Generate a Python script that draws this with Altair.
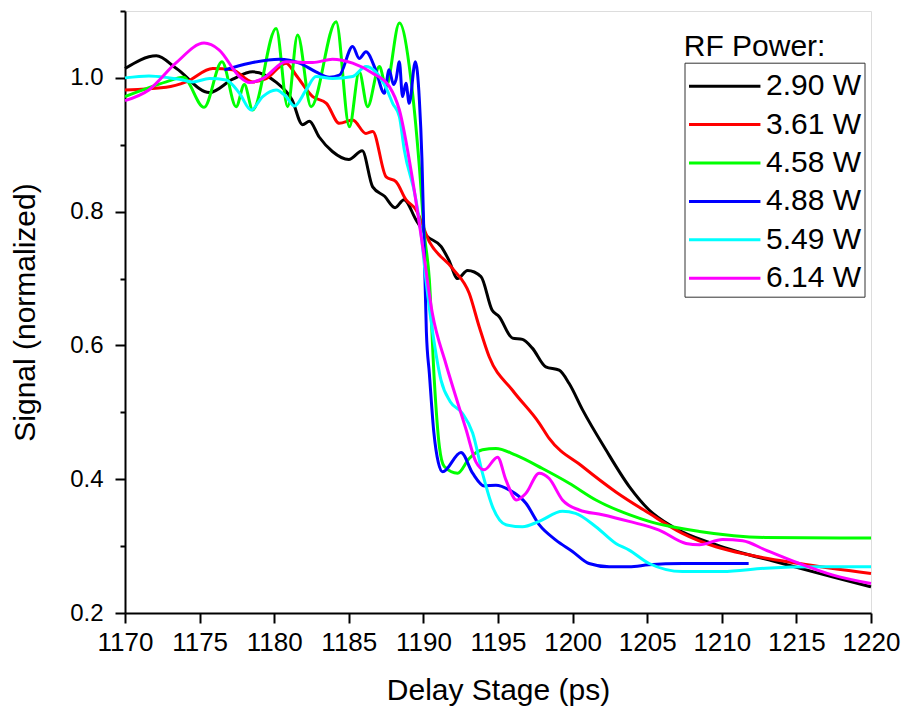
import altair as alt
import pandas as pd

FONT = "Liberation Sans"

series_names = ["2.90 W", "3.61 W", "4.58 W", "4.88 W", "5.49 W", "6.14 W"]
series_colors = ["#000000", "#ff0000", "#00ff00", "#0000ff", "#00ffff", "#ff00ff"]

x_tick_values = [1170 + 2.5 * i for i in range(21)]
y_tick_values = [0.2, 0.3, 0.4, 0.5, 0.6, 0.7, 0.8, 0.9, 1.0, 1.1]

legend_title = "RF Power:"
legend_title_delay = 1207.45
legend_title_signal = 1.033

# 2.90 W (black)
x_290 = [1170, 1172.1, 1173.45, 1175.66, 1177.22, 1178.56, 1180.1, 1181.2, 1181.9, 1182.36,
         1183.0, 1183.9, 1185.0, 1185.9, 1186.6, 1187.4, 1188.1, 1188.7, 1189.5, 1190.17,
         1191.18, 1191.7, 1192.3, 1192.96, 1193.86, 1194.6, 1195.08, 1195.97, 1196.64, 1197.3,
         1198.2, 1199.1, 1199.77, 1200.66, 1202.23, 1203.8, 1205.13, 1206.7, 1209.6, 1214.06,
         1217.4, 1220]
y_290 = [1.014, 1.033, 1.014, 0.978, 0.998, 1.009, 0.994, 0.967, 0.930, 0.935,
         0.912, 0.890, 0.878, 0.891, 0.837, 0.823, 0.806, 0.818, 0.788, 0.765,
         0.748, 0.728, 0.700, 0.712, 0.703, 0.653, 0.643, 0.611, 0.609, 0.596,
         0.568, 0.563, 0.543, 0.504, 0.444, 0.389, 0.354, 0.329, 0.302, 0.274,
         0.254, 0.239]

# 3.61 W (red)
x_361 = [1170, 1172.76, 1174.1, 1175.88, 1177.2, 1178.56, 1179.46, 1180.8, 1181.47, 1182.58,
         1183.5, 1184.37, 1185.26, 1186.15, 1186.6, 1187.5, 1188.16, 1188.83, 1189.5, 1190.4,
         1191.96, 1193.07, 1193.74, 1194.41, 1195.97, 1197.76, 1198.43, 1200.66, 1202.9, 1205.13,
         1207.36, 1209.6, 1211.8, 1215.2, 1220]
y_361 = [0.982, 0.986, 0.994, 1.014, 1.012, 0.994, 0.999, 1.022, 1.004, 0.972,
         0.962, 0.932, 0.937, 0.917, 0.920, 0.852, 0.845, 0.818, 0.803, 0.755,
         0.715, 0.678, 0.628, 0.583, 0.533, 0.484, 0.461, 0.419, 0.381, 0.349,
         0.319, 0.299, 0.287, 0.274, 0.259]

# 4.58 W (green)
x_458 = [1170, 1172.76, 1173.9, 1175.3, 1176.5, 1177.45, 1178.0, 1178.56, 1180.13, 1180.9,
         1181.57, 1182.47, 1184.15, 1185.04, 1185.7, 1186.26, 1187.05, 1187.5, 1188.39, 1189.17,
         1189.73, 1190.06, 1190.4, 1190.73, 1191.07, 1191.4, 1192.29, 1193.07, 1193.96, 1194.86,
         1196.2, 1197.98, 1199.77, 1201.56, 1203.79, 1205.13, 1208.5, 1212.9, 1220]
y_458 = [0.972, 0.994, 1.001, 0.956, 1.024, 0.957, 0.990, 0.952, 1.074, 0.957,
         1.064, 0.957, 1.084, 0.927, 1.009, 0.957, 1.017, 0.987, 1.082, 0.997,
         0.867, 0.768, 0.698, 0.548, 0.449, 0.419, 0.409, 0.431, 0.444, 0.446,
         0.436, 0.416, 0.394, 0.369, 0.347, 0.337, 0.322, 0.313, 0.312]

# 4.88 W (blue)
x_488 = [1176.66, 1178.34, 1180.35, 1181.7, 1182.8, 1183.7, 1184.37, 1185.26, 1185.7, 1186.15,
         1186.8, 1187.38, 1187.7, 1188.0, 1188.16, 1188.39, 1188.6, 1188.83, 1189.05, 1189.46,
         1189.73, 1189.9, 1190.05, 1190.2, 1190.4, 1190.7, 1191.0, 1191.29, 1192.52, 1193.3,
         1194.08, 1194.86, 1195.75, 1196.87, 1197.76, 1198.88, 1199.99, 1201.1, 1202.45, 1203.79,
         1205.1, 1207.36, 1211.8]
y_488 = [1.012, 1.022, 1.028, 1.022, 1.009, 1.001, 1.004, 1.047, 1.029, 1.039,
         1.012, 0.977, 1.012, 0.990, 0.997, 1.024, 0.972, 0.992, 0.962, 1.024,
         0.967, 0.880, 0.750, 0.620, 0.558, 0.470, 0.425, 0.411, 0.440, 0.409,
         0.390, 0.391, 0.384, 0.364, 0.332, 0.309, 0.292, 0.274, 0.269, 0.269,
         0.272, 0.274, 0.274]

# 5.49 W (cyan)
x_549 = [1170, 1171.6, 1173.0, 1173.65, 1174.54, 1175.66, 1176.78, 1177.67, 1178.45, 1179.23,
         1180.13, 1180.8, 1181.35, 1182.14, 1182.8, 1183.9, 1185.26, 1186.15, 1186.8, 1187.5,
         1187.94, 1188.39, 1188.72, 1189.5, 1189.84, 1190.17, 1190.6, 1191.18, 1191.8, 1192.6,
         1193.3, 1193.96, 1194.63, 1195.53, 1196.64, 1197.76, 1199.32, 1200.2, 1201.56, 1202.9,
         1203.79, 1205.13, 1207.36, 1210.04, 1212.95, 1216.3, 1220]
y_549 = [1.000, 1.003, 1.000, 0.998, 0.994, 0.999, 0.997, 0.977, 0.952, 0.972,
         0.982, 0.972, 0.958, 0.982, 1.002, 0.999, 1.002, 1.017, 1.009, 0.985,
         0.962, 0.942, 0.892, 0.818, 0.768, 0.698, 0.623, 0.548, 0.516, 0.499,
         0.469, 0.409, 0.359, 0.332, 0.329, 0.337, 0.352, 0.349, 0.329, 0.304,
         0.294, 0.274, 0.262, 0.262, 0.267, 0.269, 0.269]

# 6.14 W (magenta)
x_614 = [1170, 1171.6, 1173.4, 1175.3, 1176.3, 1177.67, 1178.34, 1179.23, 1180.8, 1182.58,
         1183.9, 1185.26, 1186.6, 1187.72, 1188.39, 1189.28, 1189.95, 1190.6, 1191.5, 1192.18,
         1192.85, 1193.52, 1194.08, 1194.97, 1195.53, 1196.24, 1196.87, 1197.76, 1198.43, 1199.32,
         1200.44, 1202.0, 1203.79, 1205.8, 1207.6, 1208.5, 1210.04, 1211.4, 1212.95, 1215.2,
         1217.4, 1220]
y_614 = [0.966, 0.982, 1.022, 1.052, 1.042, 1.002, 0.993, 0.999, 1.024, 1.023,
         1.028, 1.022, 1.007, 0.987, 0.952, 0.847, 0.748, 0.648, 0.573, 0.523,
         0.475, 0.426, 0.414, 0.433, 0.399, 0.369, 0.379, 0.409, 0.401, 0.369,
         0.354, 0.347, 0.337, 0.324, 0.304, 0.302, 0.310, 0.308, 0.294, 0.274,
         0.257, 0.244]

all_x = [x_290, x_361, x_458, x_488, x_549, x_614]
all_y = [y_290, y_361, y_458, y_488, y_549, y_614]

rows = []
for k, (name, xs, ys) in enumerate(zip(series_names, all_x, all_y)):
    for xv, yv in zip(xs, ys):
        rows.append({"delay": xv, "signal": yv, "power": name, "k": k})
df = pd.DataFrame(rows)

title_df = pd.DataFrame([{"delay": legend_title_delay, "signal": legend_title_signal,
                          "label": legend_title}])

x_scale = alt.Scale(domain=[1170, 1220], nice=False, zero=False)
y_scale = alt.Scale(domain=[0.2, 1.1], nice=False, zero=False)

x_axis = alt.Axis(
    values=x_tick_values,
    labelExpr="datum.value % 5 === 0 ? format(datum.value, 'd') : ''",
    tickSize={"condition": {"test": "datum.value % 5 === 0", "value": 10}, "value": 5},
    tickWidth=2, tickColor="black", domainColor="black", domainWidth=2,
    grid=False, labelFont=FONT, labelFontSize=26, labelColor="black", labelPadding=6,
    labelFlush=False, labelOverlap=False,
    title="Delay Stage (ps)", titleFont=FONT, titleFontSize=30, titleFontWeight="normal",
    titleColor="black", titleY=77, titleBaseline="middle",
)
y_axis = alt.Axis(
    values=y_tick_values,
    labelExpr="round(datum.value * 10) % 2 === 0 ? format(datum.value, '.1f') : ''",
    tickSize={"condition": {"test": "round(datum.value * 10) % 2 === 0", "value": 10}, "value": 5},
    tickWidth=2, tickColor="black", domainColor="black", domainWidth=2,
    grid=False, labelFont=FONT, labelFontSize=24, labelColor="black", labelPadding=12,
    labelFlush=False, labelOverlap=False,
    title="Signal (normalized)", titleFont=FONT, titleFontSize=30, titleFontWeight="normal",
    titleColor="black", titleX=-100, titleY=301, titleBaseline="middle", titleAngle=-90,
    titleAlign="center",
)

legend = alt.Legend(
    title=None, orient="none", legendX=559.5, legendY=51.7,
    strokeColor="#333333", fillColor="white", padding=3,
    symbolType="M-1,0H2.76", symbolSize=38 * 38, symbolStrokeWidth=3,
    symbolFillColor="transparent",
    labelFont=FONT, labelFontSize=30, labelColor="black", labelOffset=37.5,
    rowPadding=2.4,
)

lines = alt.Chart(df).mark_line(strokeWidth=3, interpolate="monotone").encode(
    x=alt.X("delay:Q", scale=x_scale, axis=x_axis),
    y=alt.Y("signal:Q", scale=y_scale, axis=y_axis),
    color=alt.Color("power:N", scale=alt.Scale(domain=series_names, range=series_colors), legend=legend),
)

title_text = alt.Chart(title_df).mark_text(
    align="left", baseline="alphabetic", font=FONT, fontSize=30, color="black",
).encode(
    x=alt.X("delay:Q", scale=x_scale),
    y=alt.Y("signal:Q", scale=y_scale),
    text="label:N",
)

chart = alt.layer(lines, title_text).properties(
    width=746, height=602,
    autosize=alt.AutoSizeParams(type="none"),
    padding={"left": 125, "top": 11, "right": 34, "bottom": 96},
).configure_view(stroke=None).configure(background="white")

chart.save("out.html", embed_options={"renderer": "svg", "actions": False})
